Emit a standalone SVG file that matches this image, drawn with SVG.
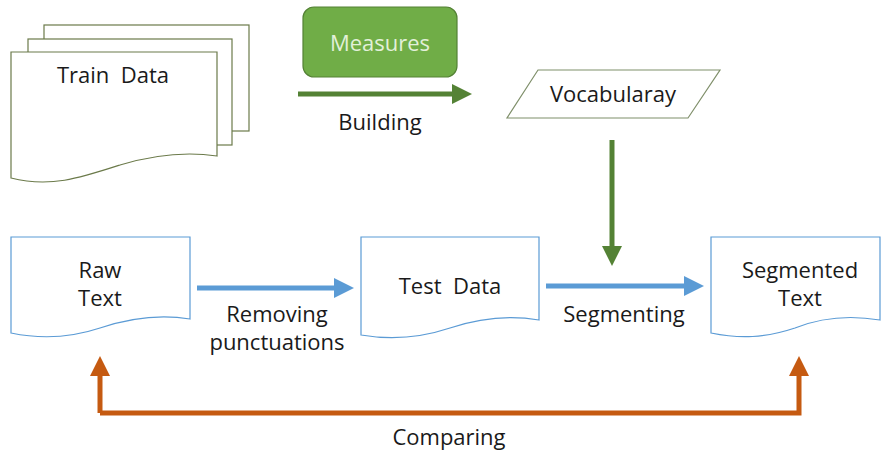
<svg xmlns="http://www.w3.org/2000/svg" width="881" height="456" viewBox="0 0 881 456">
<style>
text{font-family:"Open Sans","Noto Sans","Liberation Sans",sans-serif;font-size:22px;fill:#1a1a1a;text-anchor:middle}
.doc{fill:#fff;stroke:#5b9bd5;stroke-width:1.2}
.tdoc{fill:#fff;stroke:#6b7a4a;stroke-width:1.2}
.g{stroke:#548235;stroke-width:5;fill:none}
.b{stroke:#5b9bd5;stroke-width:5;fill:none}
.o{stroke:#c55a11;stroke-width:5;fill:none}
</style>
<defs>
<marker id="ag" markerWidth="4" markerHeight="4" refX="0" refY="2" orient="auto" markerUnits="strokeWidth" viewBox="0 0 4 4"><path d="M0,0 L4,2 L0,4 Z" fill="#548235"/></marker>
<marker id="ab" markerWidth="4" markerHeight="4" refX="0" refY="2" orient="auto" markerUnits="strokeWidth" viewBox="0 0 4 4"><path d="M0,0 L4,2 L0,4 Z" fill="#5b9bd5"/></marker>
<marker id="ao" markerWidth="4" markerHeight="4" refX="0" refY="2" orient="auto" markerUnits="strokeWidth" viewBox="0 0 4 4"><path d="M0,0 L4,2 L0,4 Z" fill="#c55a11"/></marker>
</defs>
<rect width="881" height="456" fill="#fff"/>
<g id="train-data">
<rect class="tdoc" x="44" y="25" width="205" height="106"/>
<rect class="tdoc" x="28" y="39" width="204" height="106"/>
<path class="tdoc" d="M11,52 H217 V156 C190,152 160,153 120,165 C80,178 50,188 11,178 Z"/>
<text x="113" y="83" xml:space="preserve">Train  Data</text>
</g>
<g id="measures">
<rect x="303" y="7" width="154" height="70" rx="11" fill="#70ad47" stroke="#548235" stroke-width="1.2"/>
<text x="380" y="51" style="fill:#e2f0d9">Measures</text>
</g>
<g id="vocabulary">
<path d="M538,70 H720 L688,118 H507 Z" fill="#fff" stroke="#7f8f6a" stroke-width="1.2"/>
<text x="613" y="102">Vocabularay</text>
</g>
<g id="raw-text">
<path class="doc" d="M11,237 H190 V319 C160,314 130,318 100,328 C70,338 40,339 11,333 Z"/>
<text x="100" y="278">Raw</text>
<text x="100" y="306">Text</text>
</g>
<g id="test-data">
<path class="doc" d="M361,237 H539 V320 C510,315 480,318 450,328 C420,338 390,340 361,335 Z"/>
<text x="450" y="294" xml:space="preserve">Test  Data</text>
</g>
<g id="segmented-text">
<path class="doc" d="M711,237 H880 V320 C850,315 820,318 795,328 C765,338 740,339 711,333 Z"/>
<text x="800" y="278">Segmented</text>
<text x="800" y="306">Text</text>
</g>
<g id="connectors">
<line class="g" x1="298" y1="94" x2="452" y2="94" marker-end="url(#ag)"/>
<line class="g" x1="612" y1="140" x2="612" y2="246" marker-end="url(#ag)"/>
<line class="b" x1="197" y1="288" x2="334" y2="288" marker-end="url(#ab)"/>
<line class="b" x1="546" y1="286" x2="684" y2="286" marker-end="url(#ab)"/>
<path class="o" d="M100,413 V376" marker-end="url(#ao)"/>
<path class="o" d="M100,413 H799 V376" marker-end="url(#ao)"/>
<text x="380" y="130">Building</text>
<text x="277" y="322">Removing</text>
<text x="277" y="350">punctuations</text>
<text x="624" y="322">Segmenting</text>
<text x="449" y="445">Comparing</text>
</g>
</svg>
